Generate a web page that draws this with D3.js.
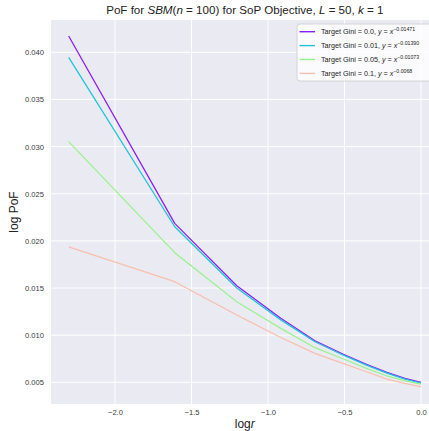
<!DOCTYPE html>
<html><head><meta charset="utf-8">
<script src="https://cdn.jsdelivr.net/npm/d3@7"></script>
<style>body{margin:0;background:#fff}svg{display:block}text{font-family:"Liberation Sans",Arial,sans-serif}</style>
</head><body>
<svg id="c" width="429" height="431"></svg>
<script>
const rValues = [0.1,0.2,0.3,0.4,0.5,0.6,0.7,0.8,0.9,1.0];
const seriesNames = ["0.0","0.01","0.05","0.1"];
const exponents = ["\u22120.01471","\u22120.01390","\u22120.01073","\u22120.0068"];
const gini00 = [0.04173,0.02186,0.01525,0.01180,0.00941,0.00800,0.00691,0.00605,0.00542,0.00500];
const gini01 = [0.03947,0.02150,0.01500,0.01162,0.00930,0.00790,0.00683,0.00598,0.00535,0.00492];
const gini05 = [0.03053,0.01875,0.01355,0.01072,0.00867,0.00750,0.00648,0.00567,0.00516,0.00480];
const gini10 = [0.01936,0.01567,0.01214,0.00975,0.00807,0.00700,0.00612,0.00535,0.00488,0.00451];
const xTicks = [-2.0,-1.5,-1.0,-0.5,0.0];
const yTicks = [0.005,0.010,0.015,0.020,0.025,0.030,0.035,0.040];
const colors = ["#8b1ff8","#22c3d9","#9af28f","#f8bfae"];

const svg = d3.select("#c");
const L=51,R=438.6,T=20,B=404;
const x = d3.scaleLinear().domain([-2.418,0.115]).range([L,R]);
const y = d3.scaleLinear().domain([0.0027,0.043426]).range([B,T]);

svg.append("rect").attr("x",L).attr("y",T).attr("width",R-L).attr("height",B-T).attr("fill","#eaeaf2");
const g = svg.append("g");
g.selectAll(".gx").data(xTicks).enter().append("line").attr("x1",d=>x(d)).attr("x2",d=>x(d)).attr("y1",T).attr("y2",B).attr("stroke","#fff").attr("stroke-width",1);
g.selectAll(".gy").data(yTicks).enter().append("line").attr("y1",d=>y(d)).attr("y2",d=>y(d)).attr("x1",L).attr("x2",R).attr("stroke","#fff").attr("stroke-width",1);

const xAxis = svg.append("g").attr("transform",`translate(0,${B})`).call(d3.axisBottom(x).tickValues(xTicks).tickSize(0).tickPadding(6).tickFormat(d=>d3.format(".1f")(d).replace("-","\u2212")));
const yAxis = svg.append("g").attr("transform",`translate(${L},0)`).call(d3.axisLeft(y).tickValues(yTicks).tickSize(0).tickPadding(7).tickFormat(d3.format(".3f")));
[xAxis,yAxis].forEach(a=>{a.select(".domain").remove();a.selectAll("text").attr("fill","#3a3a3a").style("font-size","7.6px").style("font-family","Liberation Sans, Arial, sans-serif");});

const all = [gini00,gini01,gini05,gini10];
const line = d3.line().x((d,i)=>x(Math.log(rValues[i]))).y(d=>y(d));
svg.append("defs").append("clipPath").attr("id","pc").append("rect").attr("x",L).attr("y",T).attr("width",R-L).attr("height",B-T);
const lg = svg.append("g").attr("clip-path","url(#pc)");
all.forEach((s,k)=>{
  lg.append("path").datum(s).attr("d",line).attr("fill","none").attr("stroke",colors[k]).attr("stroke-width",1.3).attr("stroke-linejoin","round");
});

// legend
const lx=297, ly=24;
svg.append("rect").attr("x",lx).attr("y",ly).attr("width",160).attr("height",57).attr("rx",3).attr("fill","#ffffff").attr("fill-opacity",0.8).attr("stroke","#cccccc").attr("stroke-width",0.8);
seriesNames.forEach((n,k)=>{
  const yy = 31.7 + k*13.9;
  svg.append("line").attr("x1",299.5).attr("x2",315).attr("y1",yy).attr("y2",yy).attr("stroke",colors[k]).attr("stroke-width",1.4);
  const t = svg.append("text").attr("x",321).attr("y",yy+2.6).style("font-size","7.2px").attr("fill","#222");
  t.append("tspan").text(`Target Gini = ${n}, `);
  t.append("tspan").style("font-style","italic").text("y");
  t.append("tspan").text(" = ");
  t.append("tspan").style("font-style","italic").text("x");
  t.append("tspan").attr("dy",-3).style("font-size","5.2px").text(exponents[k]);
});

// title
const tt = svg.append("text").attr("x",(L+R)/2).attr("y",14).attr("text-anchor","middle").style("font-size","11.6px").attr("fill","#222");
tt.append("tspan").text("PoF for ");
tt.append("tspan").style("font-style","italic").text("SBM");
tt.append("tspan").text("(");
tt.append("tspan").style("font-style","italic").text("n");
tt.append("tspan").text(" = 100) for SoP Objective, ");
tt.append("tspan").style("font-style","italic").text("L");
tt.append("tspan").text(" = 50, ");
tt.append("tspan").style("font-style","italic").text("k");
tt.append("tspan").text(" = 1");

// axis labels
const xl = svg.append("text").attr("x",(L+R)/2).attr("y",428).attr("text-anchor","middle").style("font-size","12px").attr("fill","#222");
xl.append("tspan").text("log");
xl.append("tspan").style("font-style","italic").text("r");
svg.append("text").attr("transform",`translate(18,${(T+B)/2}) rotate(-90)`).attr("text-anchor","middle").style("font-size","12px").attr("fill","#222").text("log PoF");
</script>
</body></html>
